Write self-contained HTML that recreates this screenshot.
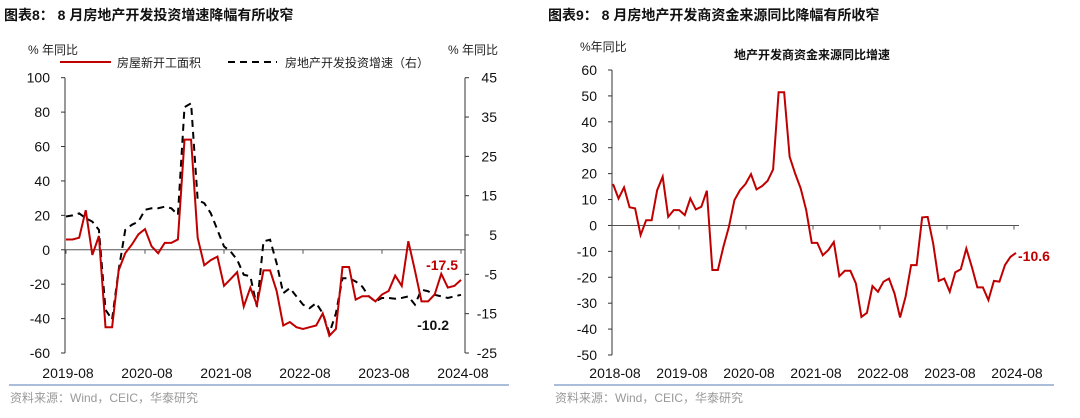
<!DOCTYPE html>
<html><head><meta charset="utf-8"><style>
body{margin:0;background:#fff;width:1080px;height:413px;overflow:hidden;font-family:"Liberation Sans","Noto Sans CJK SC",sans-serif}
svg text{font-family:"Liberation Sans","Noto Sans CJK SC",sans-serif}
</style></head><body>
<svg id="s" width="1080" height="413" xmlns="http://www.w3.org/2000/svg">
<text x="4" y="20" font-size="14" font-weight="bold" fill="#111">图表8：  8 月房地产开发投资增速降幅有所收窄</text>
<text x="548" y="20" font-size="14" font-weight="bold" fill="#111">图表9：  8 月房地产开发商资金来源同比降幅有所收窄</text>
<line x1="9" y1="385" x2="509" y2="385" stroke="#8ea9cf" stroke-width="1.5"/>
<line x1="554" y1="385" x2="1054" y2="385" stroke="#8ea9cf" stroke-width="1.5"/>
<text x="10" y="402" font-size="12" fill="#999">资料来源：Wind，CEIC，华泰研究</text>
<text x="555" y="402" font-size="12" fill="#999">资料来源：Wind，CEIC，华泰研究</text>
<text x="28" y="54" font-size="12" fill="#222">% 年同比</text>
<text x="448" y="54" font-size="12" fill="#222">% 年同比</text>
<line x1="60" y1="62" x2="111" y2="62" stroke="#c00000" stroke-width="2"/>
<text x="117" y="67" font-size="12" fill="#222">房屋新开工面积</text>
<line x1="228" y1="62" x2="277" y2="62" stroke="#000" stroke-width="2" stroke-dasharray="7,5"/>
<text x="285" y="67" font-size="12" fill="#222">房地产开发投资增速（右）</text>
<text x="580" y="51" font-size="12" fill="#222">%年同比</text>
<text x="812" y="59" font-size="12" font-weight="bold" text-anchor="middle" fill="#111">地产开发商资金来源同比增速</text>
<g id="g"></g>
</svg>
<script>
const leftXLabels=["2019-08","2020-08","2021-08","2022-08","2023-08","2024-08"];
const leftYTicks=[100,80,60,40,20,0,-20,-40,-60];
const rightYTicks=[45,35,25,15,5,-5,-15,-25];
const newStarts=[6,6,7,23,-3,8,-45,-45,-12,-2,3,9,12,2,-2,4,4,6,64,64,7,-9,-6,-4,-21,-17,-13,-33,-22,-32,-12,-12,-24,-44,-42,-45,-46,-45,-44,-37,-50,-46,-10,-10,-29,-27,-27,-30,-26,-24,-15,-21,5,-12,-30,-30,-26,-14,-22,-21,-17.5];
const investment=[9.7,10,10.5,9.3,8.4,6.3,-14,-16.5,-3.9,6.3,7.6,8.4,11.4,11.8,11.8,12.2,11.8,10.1,37.5,38.5,13.9,13.1,10.5,6.3,2.1,0.8,-1.3,-5.1,-5.5,-13.2,3.4,3.8,-2.2,-9.8,-8.5,-10.6,-12.7,-13.6,-12.3,-14.9,-20,-14.9,-6,-6,-6.8,-8.1,-10.6,-11.9,-11,-11,-11.2,-11,-10.6,-12.7,-8.9,-9.3,-10.2,-10.6,-11,-10.6,-10.2];
const fundXLabels=["2018-08","2019-08","2020-08","2021-08","2022-08","2023-08","2024-08"];
const fundYTicks=[60,50,40,30,20,10,0,-10,-20,-30,-40,-50];
const funds=[16,10.4,14.7,7,6.6,-3.7,2,2,13.6,18.8,3.3,5.9,5.9,4,10.4,6.2,7.2,13.4,-17.2,-17.2,-8.2,-0.5,9.8,13.6,16,19.8,13.9,15.2,17.2,21.6,51.4,51.4,26.5,20,14.3,5.9,-6.7,-6.7,-11.5,-9.5,-6.4,-19.6,-17.5,-17.5,-22.4,-35.3,-33.7,-23.4,-25.6,-21.7,-20.5,-26.3,-35.5,-27.5,-15.3,-15.3,3.1,3.3,-7,-21.4,-20.5,-25.6,-18.1,-16.9,-8.9,-16,-23.9,-23.9,-28.8,-21.4,-21.7,-15.3,-12.1,-10.6];

const g=document.getElementById('g');
function el(t,a,txt){const e=document.createElementNS('http://www.w3.org/2000/svg',t);for(const k in a)e.setAttribute(k,a[k]);if(txt!==undefined)e.textContent=txt;g.appendChild(e);return e;}
const LX0=66,LX1=461,LT=77.7,LB=353;
const ly=v=>LB-(v+60)/160*(LB-LT);
const ry=v=>LB-(v+25)/70*(LB-LT);
const lx=(i,n)=>LX0+i*(LX1-LX0)/(n-1);
let a=el('line',{x1:65,y1:LT,x2:65,y2:LB,stroke:'#333'});


a=el('line',{x1:465,y1:LT,x2:465,y2:LB,stroke:'#333'});


a=el('line',{x1:65,y1:ly(0),x2:465,y2:ly(0),stroke:'#555'});


leftYTicks.forEach(v=>{const y=ly(v);
 el('line',{x1:61,y1:y,x2:65,y2:y,stroke:'#333'});
 const t=el('text',{x:50,y:y+5,'font-size':14,'text-anchor':'end',fill:'#111'},v);
 
 });
rightYTicks.forEach(v=>{const y=ry(v);
 el('line',{x1:465,y1:y,x2:469,y2:y,stroke:'#333'});
 const t=el('text',{x:497,y:y+5,'font-size':14,'text-anchor':'end',fill:'#111'},v);
 
 });
leftXLabels.forEach((s,k)=>{const x=lx(k*12,61);
 el('line',{x1:x,y1:ly(0),x2:x,y2:ly(0)+4,stroke:'#555'});
 const t=el('text',{x:x+2,y:378,'font-size':14,'text-anchor':'middle',fill:'#111'},s);
 
 });
let p=el('polyline',{points:investment.map((v,i)=>lx(i,investment.length)+','+ry(v)).join(' '),fill:'none',stroke:'#000','stroke-width':2,'stroke-dasharray':'7,5'});


p=el('polyline',{points:newStarts.map((v,i)=>lx(i,newStarts.length)+','+ly(v)).join(' '),fill:'none',stroke:'#c00000','stroke-width':2});


let t=el('text',{x:458,y:270,'font-size':14,'font-weight':'bold','text-anchor':'end',fill:'#c00000'},newStarts[newStarts.length-1]);


t=el('text',{x:449,y:330,'font-size':14,'font-weight':'bold','text-anchor':'end',fill:'#111'},investment[investment.length-1]);


const RX0=613,RX1=1016,RT=70,RB=355;
const fy=v=>RB-(v+50)/110*(RB-RT);
const fx=i=>RX0+i*(RX1-RX0)/(funds.length-1);
a=el('line',{x1:612,y1:RT,x2:612,y2:RB,stroke:'#333'});


a=el('line',{x1:612,y1:fy(0),x2:1019,y2:fy(0),stroke:'#555'});


fundYTicks.forEach(v=>{const y=fy(v);
 el('line',{x1:608,y1:y,x2:612,y2:y,stroke:'#333'});
 const t=el('text',{x:597,y:y+5,'font-size':14,'text-anchor':'end',fill:'#111'},v);
 
 });
fundXLabels.forEach((s,k)=>{const x=612+k*(1014-612)/6;
 el('line',{x1:x,y1:fy(0),x2:x,y2:fy(0)+4,stroke:'#555'});
 const t=el('text',{x:x+3,y:378,'font-size':14,'text-anchor':'middle',fill:'#111'},s);
 
 });
p=el('polyline',{points:funds.map((v,i)=>fx(i)+','+fy(v)).join(' '),fill:'none',stroke:'#c00000','stroke-width':2});


t=el('text',{x:1018,y:fy(funds[funds.length-1])+8,'font-size':14,'font-weight':'bold',fill:'#c00000'},funds[funds.length-1]);


</script>
</body></html>
